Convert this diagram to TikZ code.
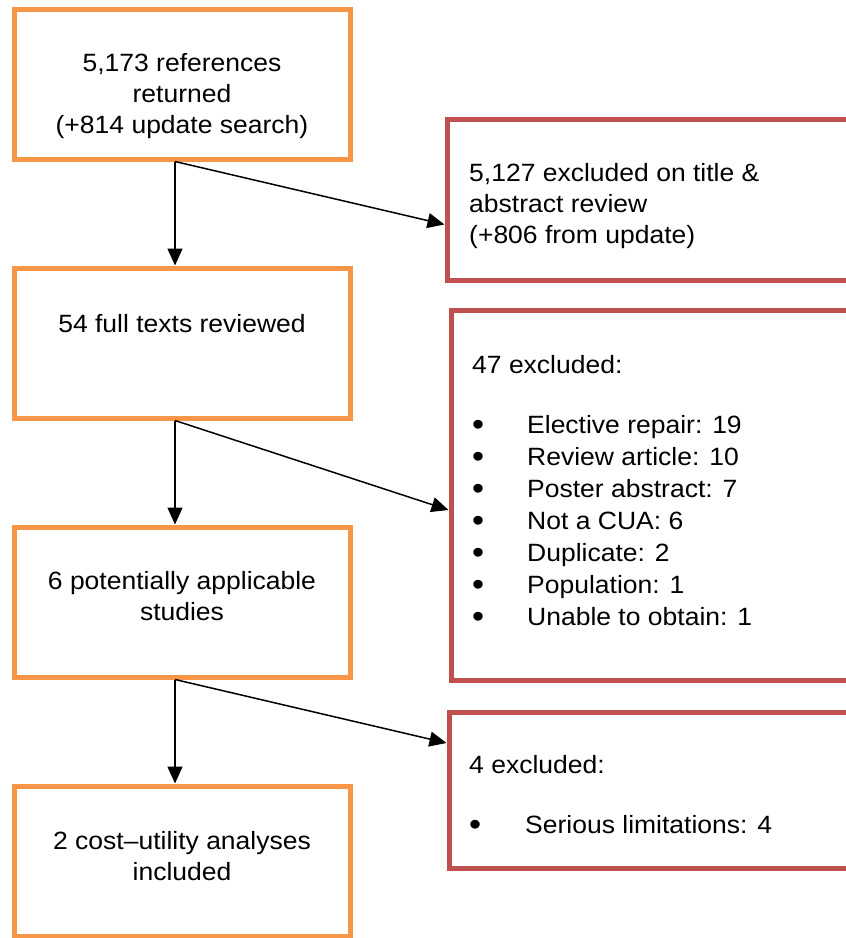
\documentclass[tikz,border=0pt]{standalone}
\usepackage{fontspec}
\setmainfont{Liberation Sans}[FakeStretch=1.06]
\usepackage{xcolor}
\usepackage{tikz}
\usetikzlibrary{positioning,arrows.meta}
\definecolor{boxorange}{RGB}{247,150,70}
\definecolor{boxred}{RGB}{192,80,77}
\newcommand{\listdot}{\raisebox{-2.5pt}{\scalebox{1.3}{\textbullet}}}
\tikzset{orange box/.style={rectangle,draw=boxorange,line width=5pt,minimum width=336pt,minimum height=150pt,inner sep=0pt},}
\tikzset{red box/.style={rectangle,draw=boxred,line width=5pt,minimum width=440pt,inner sep=0pt},}
\tikzset{box text/.style={inner sep=0pt,font=\fontsize{25pt}{31pt}\selectfont},}
\tikzset{list text/.style={inner sep=0pt,font=\fontsize{25pt}{32pt}\selectfont},}
\tikzset{flow arrow/.style={-{Triangle[length=17pt,width=15pt]},line width=1.5pt},}

\begin{document}
\begin{tikzpicture}[x=1pt,y=-1pt]
       \clip (0,0) rectangle (846,938);

       \node[orange box] (search) at (182,84) {};
       \node[orange box] (full) [below = 104pt of search] {};
       \node[orange box] (applicable) [below = 104pt of full] {};
       \node[orange box] (included) [below = 104pt of applicable] {};

       \node[red box, minimum height=161pt] (exscreen) at (667,199.5) {};
       \node[red box, minimum height=370pt] (exfull) at (671,495) {};
       \node[red box, minimum height=156pt] (exapplicable) at (669,790) {};

       \node[box text, anchor=base] (searchtext) at (182,71)
       {\begin{tabular}[t]{@{}c@{}}5,173 references\\returned\\(+814 update search)\end{tabular}};
       \node[box text, anchor=base] (fulltext) at (182,332) {54 full texts reviewed};
       \node[box text, anchor=base] (applicabletext) at (182,589)
       {\begin{tabular}[t]{@{}c@{}}6 potentially applicable\\studies\end{tabular}};
       \node[box text, anchor=base] (includedtext) at (182,849)
       {\begin{tabular}[t]{@{}c@{}}2 cost–utility analyses\\included\end{tabular}};

       \node[box text, anchor=base west] (exscreentext) at (469,181)
       {\begin{tabular}[t]{@{}l@{}}5,127 excluded on title \&\\abstract review\\(+806 from update)\end{tabular}};
       \node[list text, anchor=base west] (exfulltext) at (472,373)
       {\begin{tabular}[t]{@{}p{55pt}@{}l@{}}
       \multicolumn{2}{@{}l@{}}{47 excluded:}\\
       \\[-4pt]
       \listdot & Elective repair: 19\\
       \listdot & Review article: 10\\
       \listdot & Poster abstract: 7\\
       \listdot & Not a CUA: 6\\
       \listdot & Duplicate: 2\\
       \listdot & Population: 1\\
       \listdot & Unable to obtain: 1
       \end{tabular}};
       \node[list text, anchor=base west] (exapplicabletext) at (469,773)
       {\begin{tabular}[t]{@{}p{56pt}@{}l@{}}
       \multicolumn{2}{@{}l@{}}{4 excluded:}\\
       \\[-4pt]
       \listdot & Serious limitations: 4
       \end{tabular}};

       \draw[flow arrow] ([xshift=-7pt]search.south) -- ([xshift=-7pt]full.north);
       \draw[flow arrow] ([xshift=-7pt]search.south) -- ([yshift=-25pt]exscreen.west);
       \draw[flow arrow] ([xshift=-7pt]full.south) -- ([xshift=-7pt]applicable.north);
       \draw[flow arrow] ([xshift=-7pt]full.south) -- ([yshift=-15pt]exfull.west);
       \draw[flow arrow] ([xshift=-7pt]applicable.south) -- ([xshift=-7pt]included.north);
       \draw[flow arrow] ([xshift=-7pt]applicable.south) -- ([yshift=47pt]exapplicable.west);
\end{tikzpicture}
\end{document}
